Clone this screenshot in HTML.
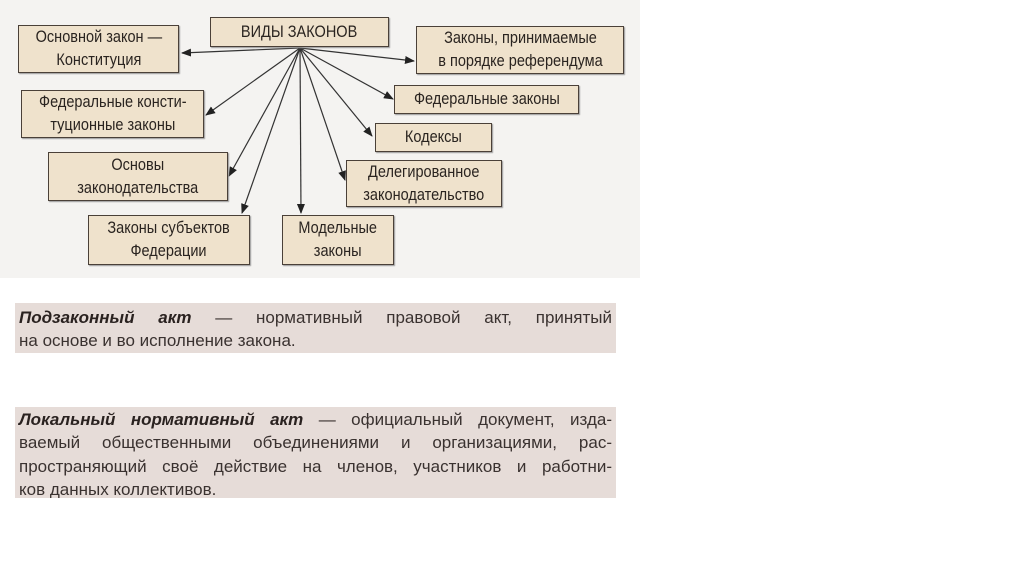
<!DOCTYPE html>
<html><head><meta charset="utf-8"><style>
body{margin:0;width:1024px;height:574px;background:#fff;position:relative;overflow:hidden;font-family:"Liberation Sans",sans-serif;color:#2a2420}
.bg{position:absolute;left:0;top:0;width:640px;height:278px;background:#f4f3f1}
.b{position:absolute;background:#efe2cc;border:1.5px solid #4a4038;box-sizing:border-box;display:flex;align-items:center;justify-content:center;text-align:center;font-size:16.5px;line-height:23px;box-shadow:1px 1px 1px #999;white-space:nowrap}
.b span{display:inline-block;transform:scaleX(0.88)}
.t{position:absolute;left:15px;width:601px;background:#e6dcd8;box-sizing:border-box;font-size:17px;color:#3a3230;overflow:hidden}
.t .w{width:593px;margin-left:4px}
.l{text-align:justify;text-align-last:justify;white-space:nowrap;height:23.3px;line-height:23.3px}
.l.e{text-align-last:left}
.t i{font-weight:bold;color:#2a2220}
</style></head><body>
<div class="bg"></div>
<svg width="640" height="280" style="position:absolute;left:0;top:0">
<defs><marker id="a" markerWidth="10" markerHeight="8" refX="9" refY="4" orient="auto" markerUnits="userSpaceOnUse"><path d="M0,0L10,4L0,8z" fill="#222"/></marker></defs>
<g stroke="#333" stroke-width="1.2" fill="none" marker-end="url(#a)">
<line x1="300" y1="48" x2="182" y2="53"/>
<line x1="300" y1="48" x2="414" y2="61"/>
<line x1="300" y1="48" x2="206" y2="115"/>
<line x1="300" y1="48" x2="393" y2="99"/>
<line x1="300" y1="48" x2="372" y2="136"/>
<line x1="300" y1="48" x2="229" y2="176"/>
<line x1="300" y1="48" x2="345" y2="180"/>
<line x1="300" y1="48" x2="242" y2="213"/>
<line x1="300" y1="48" x2="301" y2="213"/>
</g></svg>
<div class="b" style="left:210px;top:17px;width:179px;height:30px"><span>ВИДЫ ЗАКОНОВ</span></div>
<div class="b" style="left:18px;top:25px;width:161px;height:48px"><span>Основной закон —<br>Конституция</span></div>
<div class="b" style="left:416px;top:26px;width:208px;height:48px"><span>Законы, принимаемые<br>в порядке референдума</span></div>
<div class="b" style="left:21px;top:90px;width:183px;height:48px"><span>Федеральные консти-<br>туционные законы</span></div>
<div class="b" style="left:394px;top:85px;width:185px;height:29px"><span>Федеральные законы</span></div>
<div class="b" style="left:375px;top:123px;width:117px;height:29px"><span>Кодексы</span></div>
<div class="b" style="left:48px;top:152px;width:180px;height:49px"><span>Основы<br>законодательства</span></div>
<div class="b" style="left:346px;top:160px;width:156px;height:47px"><span>Делегированное<br>законодательство</span></div>
<div class="b" style="left:88px;top:215px;width:162px;height:50px"><span>Законы субъектов<br>Федерации</span></div>
<div class="b" style="left:282px;top:215px;width:112px;height:50px"><span>Модельные<br>законы</span></div>
<div class="t" style="top:303px;height:50px;padding-top:3px"><div class="w">
<div class="l"><i>Подзаконный акт</i> — нормативный правовой акт, принятый</div>
<div class="l e">на основе и во исполнение закона.</div></div></div>
<div class="t" style="top:407px;height:91px;padding-top:1px"><div class="w">
<div class="l"><i>Локальный нормативный акт</i> — официальный документ, изда-</div>
<div class="l">ваемый общественными объединениями и организациями, рас-</div>
<div class="l">пространяющий своё действие на членов, участников и работни-</div>
<div class="l e">ков данных коллективов.</div></div></div>
</body></html>
